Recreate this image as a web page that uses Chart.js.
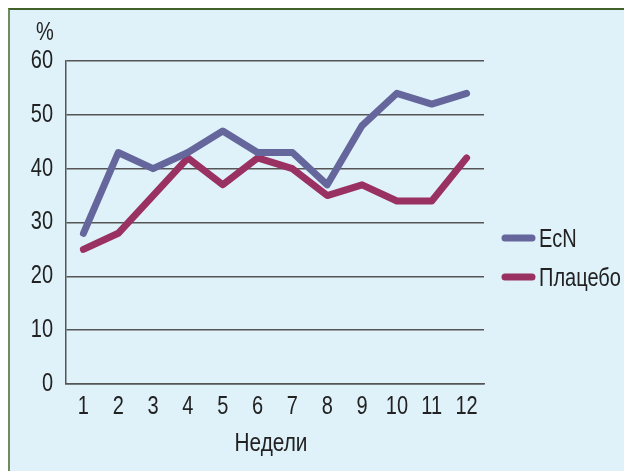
<!DOCTYPE html>
<html>
<head>
<meta charset="utf-8">
<script src="https://cdn.jsdelivr.net/npm/chart.js@4.4.1/dist/chart.umd.min.js"></script>
<style>
  html, body { margin: 0; padding: 0; background: #ffffff; overflow: hidden; }
  #frame {
    position: absolute; left: 8px; top: 8px; width: 700px; height: 520px;
    background: #dff2fa;
    border-top: 2px solid #41612a;
    border-left: 2px solid #6f8c5e;
  }
  #wrap { position: absolute; left: 0; top: 0; width: 624px; height: 471px; }
</style>
</head>
<body>
<div id="frame"></div>
<div id="wrap"><canvas id="c" width="624" height="471"></canvas></div>
<script>
// Weeks of observation
const weeks = ['1', '2', '3', '4', '5', '6', '7', '8', '9', '10', '11', '12'];
// Share of patients, %
const ecnValues = [28, 43, 40, 43, 47, 43, 43, 37, 48, 54, 52, 54];
const placeboValues = [25, 28, 35, 42, 37, 42, 40, 35, 37, 34, 34, 42];
const seriesNames = ['EcN', 'Плацебо'];
const yTicks = [0, 10, 20, 30, 40, 50, 60];
const xTitle = 'Недели';
const yTitle = '%';

const FONT = "'Liberation Sans', Arial, sans-serif";
const TEXT = '#222222';
const COLORS = ['#65679c', '#9a3163'];
const SQUEEZE = 0.8; // condensed lettering

function drawText(ctx, text, x, y, align, size) {
  ctx.save();
  ctx.font = size + 'px ' + FONT;
  ctx.fillStyle = TEXT;
  ctx.textBaseline = 'middle';
  ctx.textAlign = align;
  ctx.translate(x, y);
  ctx.scale(SQUEEZE, 1);
  ctx.fillText(text, 0, 0);
  ctx.restore();
}

// Tick labels, axis captions and the legend, in condensed lettering
const lettering = {
  id: 'lettering',
  afterDraw(chart) {
    const ctx = chart.ctx;
    const xs = chart.scales.x, ys = chart.scales.y;
    chart.data.labels.forEach((lab, i) => {
      drawText(ctx, lab, xs.getPixelForTick(i), ys.bottom + 23, 'center', 25);
    });
    ys.ticks.forEach(t => {
      drawText(ctx, String(t.value), xs.left - 13, ys.getPixelForValue(t.value), 'right', 25);
    });
    drawText(ctx, xTitle, (xs.left + xs.right) / 2 - 4, ys.bottom + 60, 'center', 26);
    drawText(ctx, yTitle, 45, 33, 'center', 25);

    chart.data.datasets.forEach((ds, i) => {
      const y = 238 + i * 39;
      ctx.save();
      ctx.strokeStyle = ds.borderColor;
      ctx.lineWidth = 7;
      ctx.lineCap = 'round';
      ctx.beginPath();
      ctx.moveTo(505, y);
      ctx.lineTo(532, y);
      ctx.stroke();
      ctx.restore();
      drawText(ctx, ds.label, 539, y + 2, 'left', 25);
    });
  }
};

new Chart(document.getElementById('c'), {
  type: 'line',
  data: {
    labels: weeks,
    datasets: [
      { label: seriesNames[0], data: ecnValues, borderColor: COLORS[0], backgroundColor: COLORS[0] },
      { label: seriesNames[1], data: placeboValues, borderColor: COLORS[1], backgroundColor: COLORS[1] }
    ]
  },
  options: {
    responsive: false,
    animation: false,
    devicePixelRatio: 1,
    layout: { padding: { top: 61, right: 140, left: 0, bottom: 0 } },
    elements: {
      line: { borderWidth: 7, tension: 0, borderCapStyle: 'round', borderJoinStyle: 'round' },
      point: { radius: 0, hoverRadius: 0 }
    },
    plugins: { legend: { display: false }, tooltip: { enabled: false } },
    scales: {
      x: {
        offset: true,
        grid: { display: false, drawTicks: false },
        border: { display: true, color: '#555555', width: 1.5 },
        ticks: { display: false },
        afterFit(scale) { scale.height = 87; }
      },
      y: {
        min: 0, max: 60,
        afterBuildTicks(scale) { scale.ticks = yTicks.map(v => ({ value: v })); },
        grid: { color: '#555555', lineWidth: 1.5, drawTicks: false },
        border: { display: true, color: '#555555', width: 1.5 },
        ticks: { display: false },
        afterFit(scale) { scale.width = 66; }
      }
    }
  },
  plugins: [lettering]
});
</script>
</body>
</html>
